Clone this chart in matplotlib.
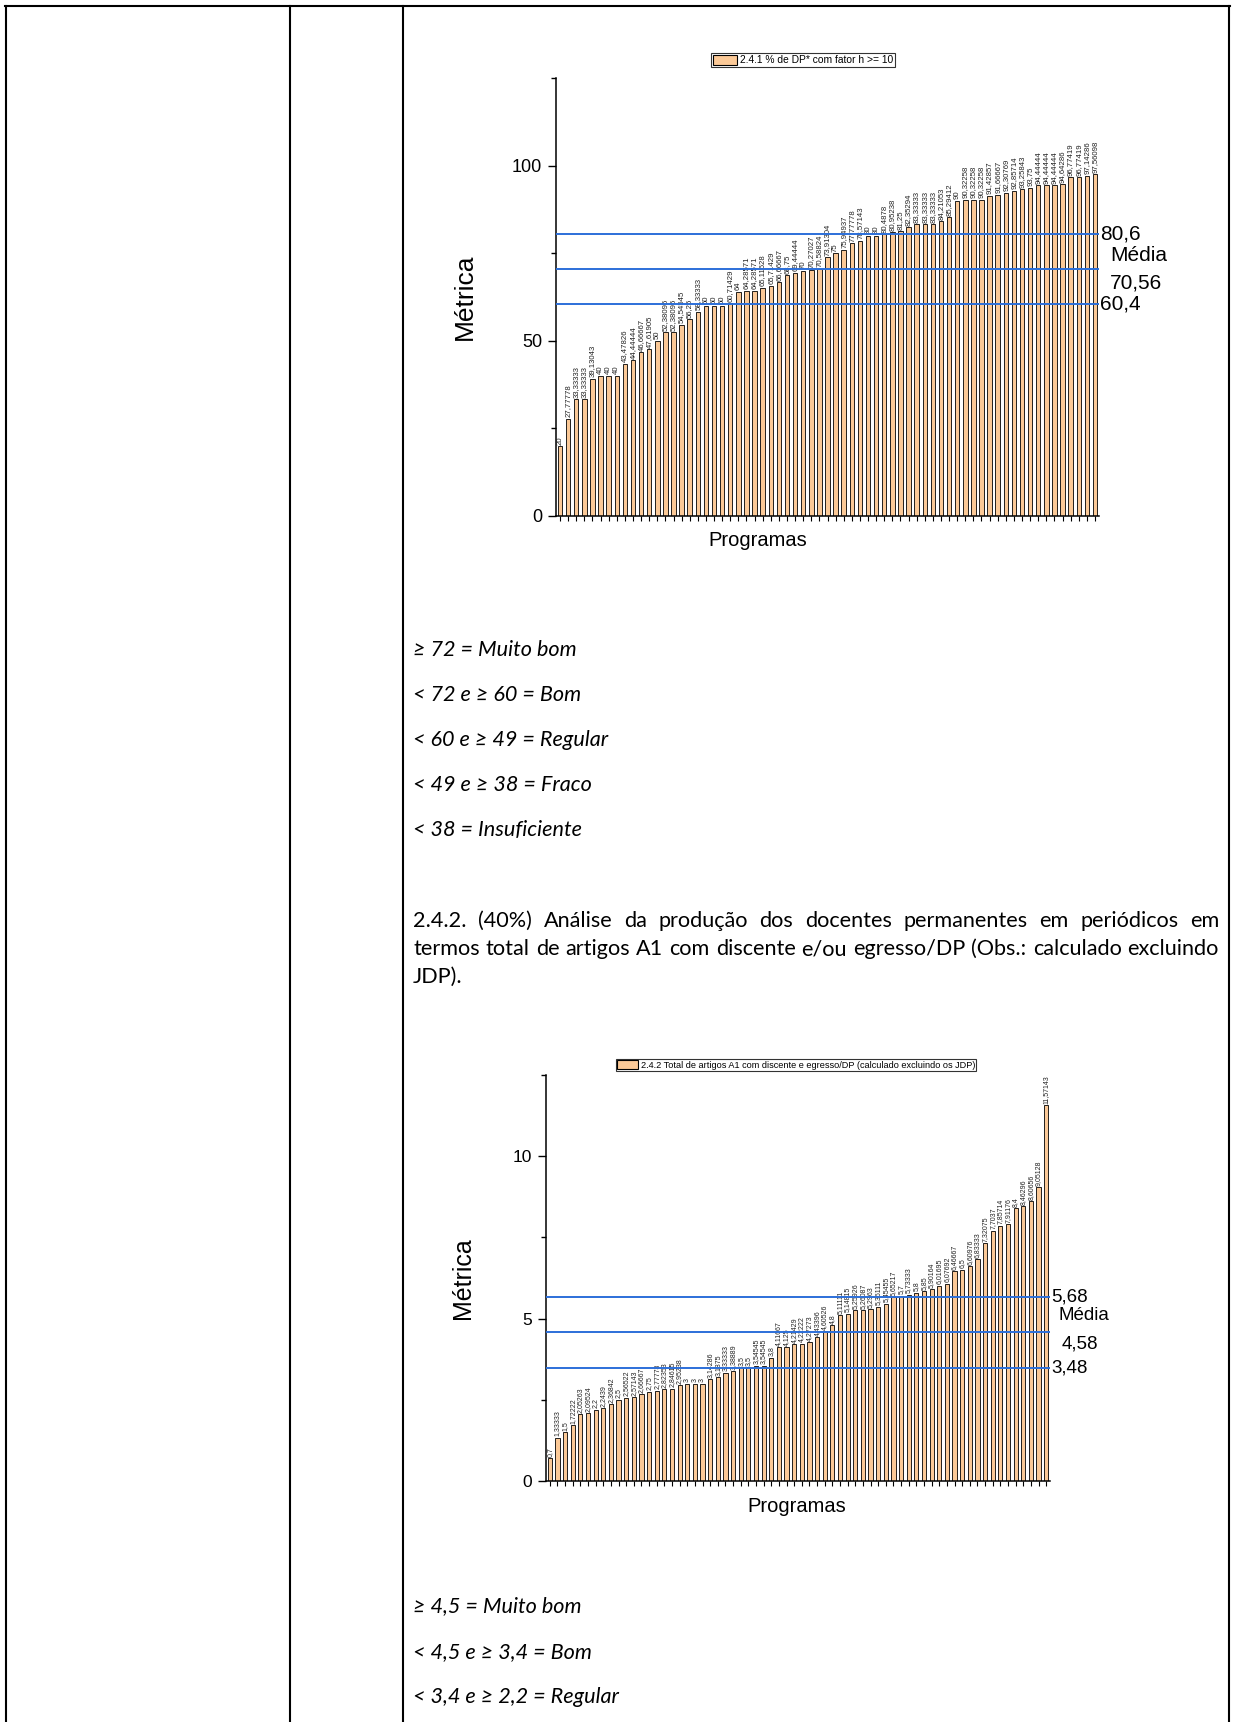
import matplotlib
matplotlib.use("Agg")
import matplotlib.pyplot as plt
from matplotlib.patches import Patch
from matplotlib.lines import Line2D

W, H = 1233, 1722
DPI = 100

# 2.4.1 % de DP* com fator h >= 10
h10_values = [20, 27.77778, 33.33333, 33.33333, 39.13043, 40, 40, 40, 43.47826, 44.44444,
              46.66667, 47.61905, 50, 52.38095, 52.38095, 54.54545, 56.25, 58.33333, 60, 60,
              60, 60.71429, 64, 64.28571, 64.28571, 65.11628, 65.71429, 66.66667, 68.75, 69.44444,
              70, 70.27027, 70.58824, 73.91304, 75, 75.94937, 77.77778, 78.57143, 80, 80,
              80.4878, 80.95238, 81.25, 82.35294, 83.33333, 83.33333, 83.33333, 84.21053, 85.29412, 90,
              90.32258, 90.32258, 90.32258, 91.42857, 91.66667, 92.30769, 92.85714, 93.25843, 93.75, 94.44444,
              94.44444, 94.44444, 94.64286, 96.77419, 96.77419, 97.14286, 97.56098]
h10_lines = [80.6, 70.56, 60.4]
h10_legend = "2.4.1 % de DP* com fator h >= 10"

# 2.4.2 Total de artigos A1 com discente e egresso/DP
a1_values = [0.7, 1.33333, 1.5, 1.72222, 2.05263, 2.09524, 2.2, 2.2439, 2.36842, 2.5,
             2.56522, 2.57143, 2.66667, 2.75, 2.77778, 2.82353, 2.84615, 2.95238, 3, 3,
             3, 3.14286, 3.1875, 3.33333, 3.38889, 3.5, 3.5, 3.54545, 3.54545, 3.8,
             4.11667, 4.125, 4.21429, 4.22222, 4.27273, 4.43396, 4.60526, 4.8, 5.11111, 5.14815,
             5.25926, 5.26087, 5.2963, 5.36111, 5.45455, 5.65217, 5.7, 5.73333, 5.8, 5.85,
             5.90164, 6.01695, 6.07692, 6.46667, 6.5, 6.60976, 6.83333, 7.32075, 7.7037, 7.85714,
             7.91176, 8.4, 8.46296, 8.60656, 9.05128, 11.57143]
a1_lines = [5.68, 4.58, 3.48]
a1_legend = "2.4.2 Total de artigos A1 com discente e egresso/DP (calculado excluindo os JDP)"

criteria_241 = ["≥ 72 = Muito bom", "< 72 e ≥ 60 = Bom", "< 60 e ≥ 49 = Regular",
                "< 49 e ≥ 38 = Fraco", "< 38 = Insuficiente"]
criteria_242 = ["≥ 4,5 = Muito bom", "< 4,5 e ≥ 3,4 = Bom", "< 3,4 e ≥ 2,2 = Regular"]
paragraph_242 = ["2.4.2. (40%) Análise da produção dos docentes permanentes em periódicos em",
                 "termos total de artigos A1 com discente e/ou egresso/DP (Obs.: calculado excluindo",
                 "JDP)."]

BAR = "#FBC997"
BLUE = "#2C6FD9"
CHART_FONT = ["Liberation Sans", "DejaVu Sans"]
DOC_FONT = ["Lato", "DejaVu Sans"]

plt.rcParams["font.family"] = CHART_FONT

fig = plt.figure(figsize=(W / DPI, H / DPI), dpi=DPI)


def fx(x):
    return x / W


def fy(y):
    return 1 - y / H


def comma(v):
    return format(v, ".10g").replace(".", ",")


def draw_chart(box, values, lines, legend_text, ymax, step, legend_xy, opts):
    x0, y0, x1, y1 = box
    ax = fig.add_axes([fx(x0), fy(y1), (x1 - x0) / W, (y1 - y0) / H])
    n = len(values)
    pos = list(range(n))
    bars = ax.bar(pos, values, width=0.55, color=BAR, edgecolor="black", linewidth=0.6,
                  label=legend_text, zorder=2)
    ax.bar_label(bars, labels=[comma(v) for v in values], rotation=90, padding=1,
                 fontsize=opts["bar_fs"], color="#222222")
    for v in lines:
        ax.axhline(v, color=BLUE, lw=1.4, zorder=3)
    ax.set_xlim(-0.5, n - 0.5)
    ax.set_ylim(0, ymax)
    ax.set_yticks([0, step, 2 * step])
    ax.set_yticklabels([str(t) for t in [0, step, 2 * step]])
    ax.set_yticks([step / 2, 1.5 * step, 2.5 * step], minor=True)
    ax.set_xticks(pos)
    ax.set_xticklabels([])
    ax.tick_params(axis="y", which="major", direction="out", length=6, width=1,
                   labelsize=opts["tick_fs"], pad=4)
    ax.tick_params(axis="y", which="minor", direction="out", length=3.5, width=1)
    ax.tick_params(axis="x", which="major", direction="out", length=3.5, width=0.8)
    for s in ["top", "right"]:
        ax.spines[s].set_visible(False)
    for s in ["left", "bottom"]:
        ax.spines[s].set_linewidth(1.1)

    hi, mean, lo = lines
    fs = opts["line_fs"]
    kw = dict(xycoords=("axes fraction", "data"), textcoords="offset pixels",
              va="center", ha="left", fontsize=fs, annotation_clip=False)
    ax.annotate(comma(hi), xy=(1, hi), xytext=(1, 0), **kw)
    ax.annotate("Média", xy=(1, mean), xytext=(opts["media_dx"], opts["media_dy"]), **kw)
    ax.annotate(comma(mean), xy=(1, mean), xytext=(opts["mean_dx"], opts["mean_dy"]), **kw)
    ax.annotate(comma(lo), xy=(1, lo), xytext=(1, 0), **kw)

    handle = Patch(facecolor=BAR, edgecolor="black", linewidth=0.8)
    lx = (legend_xy[0] - x0) / (x1 - x0)
    ly = (y1 - legend_xy[1]) / (y1 - y0)
    leg = ax.legend([handle], [legend_text], loc="center", bbox_to_anchor=(lx, ly),
                    fontsize=opts["legend_fs"], frameon=True, fancybox=False,
                    edgecolor="black", borderpad=0.15, handlelength=2.3, handleheight=1.1,
                    handletextpad=0.3, borderaxespad=0)
    leg.get_frame().set_linewidth(0.8)

    fig.text(fx(opts["ylab_xy"][0]), fy(opts["ylab_xy"][1]), "Métrica", rotation=90,
             ha="center", va="center", fontsize=opts["ylab_fs"])
    fig.text(fx(opts["xlab_xy"][0]), fy(opts["xlab_xy"][1]), "Programas",
             ha="center", va="center", fontsize=opts["xlab_fs"])
    return ax


draw_chart((556, 78, 1099, 516), h10_values, h10_lines, h10_legend, 125, 50, (803, 60),
           dict(bar_fs=5.6, tick_fs=13, line_fs=15, legend_fs=7.4, media_dx=11, media_dy=13,
                mean_dx=11, mean_dy=-14, ylab_xy=(465, 297), ylab_fs=19,
                xlab_xy=(758, 541), xlab_fs=14.5))

draw_chart((546, 1075, 1050, 1481), a1_values, a1_lines, a1_legend, 12.5, 5, (796, 1065),
           dict(bar_fs=5.0, tick_fs=12.5, line_fs=13.5, legend_fs=6.6, media_dx=8, media_dy=17,
                mean_dx=12, mean_dy=-12, ylab_xy=(463, 1278), ylab_fs=18,
                xlab_xy=(797, 1507), xlab_fs=14.5))

# table grid
for x in [6, 290, 403, 1229]:
    fig.add_artist(Line2D([fx(x), fx(x)], [fy(6), 0], color="black", lw=1.5,
                          transform=fig.transFigure))
fig.add_artist(Line2D([fx(5), fx(1230)], [fy(6), fy(6)], color="black", lw=1.5,
                      transform=fig.transFigure))

# body text: fit the font size to the column width
renderer = fig.canvas.get_renderer()
TXT_X0, TXT_X1 = 413, 1219
BASE = 6  # baseline sits a few pixels below the visual centre of the line
probe = fig.text(0, 0, paragraph_242[1], family=DOC_FONT, fontsize=10)
doc_fs = 10 * (TXT_X1 - TXT_X0 - 6) / probe.get_window_extent(renderer).width
probe.remove()


def doc_text(x, y, s, **kw):
    return fig.text(fx(x), fy(y + BASE), s, family=DOC_FONT, fontsize=doc_fs,
                    va="baseline", **kw)


def justify_line(line, y):
    words = line.split()
    texts = [doc_text(0, y, w) for w in words]
    widths = [t.get_window_extent(renderer).width for t in texts]
    gap = (TXT_X1 - TXT_X0 - sum(widths)) / (len(words) - 1)
    x = TXT_X0
    for t, wd in zip(texts, widths):
        t.set_x(fx(x))
        x += wd + gap


for line, y in zip(criteria_241, [650, 695, 740, 785, 830]):
    doc_text(TXT_X0, y, line, style="italic")

justify_line(paragraph_242[0], 921)
justify_line(paragraph_242[1], 949)
doc_text(TXT_X0, 977, paragraph_242[2])

for line, y in zip(criteria_242, [1606, 1652, 1697]):
    doc_text(TXT_X0, y, line, style="italic")

fig.savefig("out.png", dpi=DPI)
